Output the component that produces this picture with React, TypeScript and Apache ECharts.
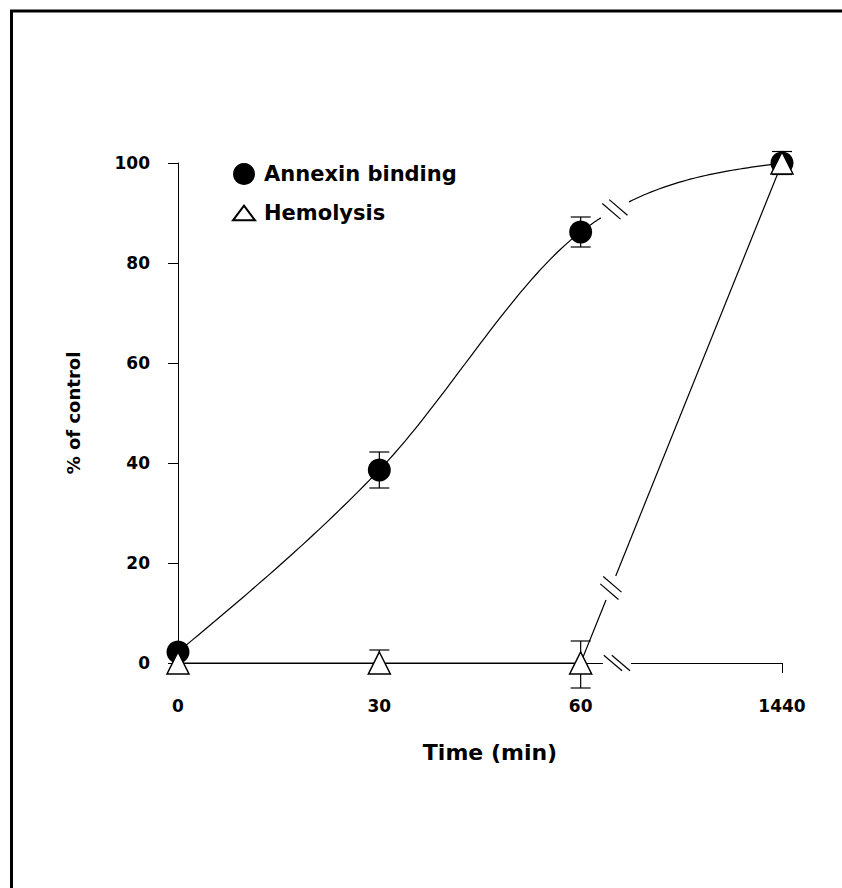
import React, { useEffect, useRef } from 'react';
import * as echarts from 'echarts';

// ---- data ----
const timeLabels = ['0', '30', '60', '1440'];
const annexinMean = [2.2, 38.6, 86.2, 100];
const annexinLow = [1.2, 35.0, 83.2, 97.7];
const annexinHigh = [3.2, 42.2, 89.2, 102.3];
const hemolysisMean = [0, 0, 0, 100];
const hemolysisLow = [-1.5, -1.8, -5.0, 100];
const hemolysisHigh = [1.5, 2.6, 4.4, 100];
const yMin = 0;
const yMax = 100;
const yInterval = 20;

const FONT = 'DejaVu Sans';
const BREAK_FRAC = 0.18; // where the "//" breaks sit between 60 and 1440

function breakMarks(cx: number, cy: number, dx: number, dy: number) {
  const mx = 0.76, my = 0.65, L = 12, off = 4;
  return [-1, 1].map((s) => ({
    type: 'line',
    shape: {
      x1: cx + s * off * dx - mx * L, y1: cy + s * off * dy - my * L,
      x2: cx + s * off * dx + mx * L, y2: cy + s * off * dy + my * L,
    },
    style: { stroke: '#000', lineWidth: 1.2 },
  }));
}

function renderCurves(params: any, api: any) {
  if (params.dataIndex !== 0) return null;
  const children: any[] = [];
  const lineStyle = { stroke: '#000', lineWidth: 1.2, fill: 'none' };

  // x-axis break (mask + marks)
  const a2 = api.coord([2, 0]);
  const a3 = api.coord([3, 0]);
  const ax = a2[0] + BREAK_FRAC * (a3[0] - a2[0]);
  const ay = a2[1];
  children.push({ type: 'line', shape: { x1: ax - 14, y1: ay, x2: ax + 14, y2: ay }, style: { stroke: '#fff', lineWidth: 5 } });
  children.push(...breakMarks(ax, ay, 1, 0));

  // Annexin smooth curve (spline through the points -> cubic bezier)
  const P = annexinMean.map((v, i) => api.coord([i, v]));
  const n = P.length;
  const T: number[][] = P.map((p: number[], i: number) => {
    const a = P[Math.max(0, i - 1)], b = P[Math.min(n - 1, i + 1)];
    return [(b[0] - a[0]) * 0.5, (b[1] - a[1]) * 0.5];
  });
  // natural-like end tangents
  T[0] = [1.5 * (P[1][0] - P[0][0]) - 0.5 * T[1][0], 1.5 * (P[1][1] - P[0][1]) - 0.5 * T[1][1]];
  T[n - 1] = [1.5 * (P[n - 1][0] - P[n - 2][0]) - 0.5 * T[n - 2][0], 1.5 * (P[n - 1][1] - P[n - 2][1]) - 0.5 * T[n - 2][1]];
  const bez = (i: number, t: number) => {
    const p0 = P[i], p3 = P[i + 1];
    const c1 = [p0[0] + T[i][0] / 3, p0[1] + T[i][1] / 3];
    const c2 = [p3[0] - T[i + 1][0] / 3, p3[1] - T[i + 1][1] / 3];
    const u = 1 - t;
    return [
      u * u * u * p0[0] + 3 * u * u * t * c1[0] + 3 * u * t * t * c2[0] + t * t * t * p3[0],
      u * u * u * p0[1] + 3 * u * u * t * c1[1] + 3 * u * t * t * c2[1] + t * t * t * p3[1],
    ];
  };
  const tc = 0.17, dt = 0.07;
  const first: number[][] = [];
  for (let i = 0; i < n - 2; i++) {
    for (let s = 0; s < 40; s++) first.push(bez(i, s / 40));
  }
  for (let s = 0; s <= 20; s++) first.push(bez(n - 2, (tc - dt) * s / 20));
  const second: number[][] = [];
  for (let s = 0; s <= 40; s++) second.push(bez(n - 2, tc + dt + (1 - tc - dt) * s / 40));
  children.push({ type: 'polyline', shape: { points: first }, style: lineStyle });
  children.push({ type: 'polyline', shape: { points: second }, style: lineStyle });
  const b0 = bez(n - 2, tc - 0.01), b1 = bez(n - 2, tc + 0.01), bc = bez(n - 2, tc);
  const bl = Math.hypot(b1[0] - b0[0], b1[1] - b0[1]);
  children.push(...breakMarks(bc[0], bc[1], (b1[0] - b0[0]) / bl, (b1[1] - b0[1]) / bl));

  // Hemolysis straight line with break
  const H = hemolysisMean.map((v, i) => api.coord([i, v]));
  const h2 = H[n - 2], h3 = H[n - 1];
  const hl = Math.hypot(h3[0] - h2[0], h3[1] - h2[1]);
  const hdx = (h3[0] - h2[0]) / hl, hdy = (h3[1] - h2[1]) / hl;
  const hf = 0.15;
  const hc = [h2[0] + hdx * hl * hf, h2[1] + hdy * hl * hf];
  const g = 13;
  const hFirst = H.slice(0, n - 1).concat([[hc[0] - hdx * g, hc[1] - hdy * g]]);
  const hSecond = [[hc[0] + hdx * g, hc[1] + hdy * g], h3];
  children.push({ type: 'polyline', shape: { points: hFirst }, style: lineStyle });
  children.push({ type: 'polyline', shape: { points: hSecond }, style: lineStyle });
  children.push(...breakMarks(hc[0], hc[1], hdx, hdy));

  return { type: 'group', children };
}

function renderErr(params: any, api: any) {
  const x = api.value(0);
  const a = api.coord([x, api.value(1)]);
  const b = api.coord([x, api.value(2)]);
  const w = 10;
  const st = { stroke: '#000', lineWidth: 1.2 };
  return {
    type: 'group',
    children: [
      { type: 'line', shape: { x1: a[0], y1: a[1], x2: b[0], y2: b[1] }, style: st },
      { type: 'line', shape: { x1: a[0] - w, y1: a[1], x2: a[0] + w, y2: a[1] }, style: st },
      { type: 'line', shape: { x1: b[0] - w, y1: b[1], x2: b[0] + w, y2: b[1] }, style: st },
    ],
  };
}

export default function App() {
  const ref = useRef<HTMLDivElement>(null);
  useEffect(() => {
    if (!ref.current) return;
    const chart = echarts.init(ref.current, undefined, { renderer: 'svg' });
    const labelStyle = { fontFamily: FONT, fontWeight: 'bold' as const, fontSize: 17, color: '#000' };
    chart.setOption({
      animation: false,
      backgroundColor: '#fff',
      grid: { left: 178, right: 60, top: 163, bottom: 225, containLabel: false },
      graphic: [
        {
          type: 'rect',
          shape: { x: 11.5, y: 11, width: 1000, height: 1000 },
          style: { fill: 'none', stroke: '#000', lineWidth: 3 },
        },
      ],
      legend: {
        orient: 'vertical',
        left: 232,
        top: 163,
        padding: 0,
        itemWidth: 22,
        itemHeight: 22,
        itemGap: 17,
        selectedMode: false,
        data: [
          { name: 'Annexin binding', icon: 'circle' },
          { name: 'Hemolysis', icon: 'path://M12,0L24,16L0,16Z' },
        ],
        textStyle: { fontFamily: FONT, fontWeight: 'bold', fontSize: 21, color: '#000', lineHeight: 22, padding: [0, 0, 0, 4] },
      },
      xAxis: {
        type: 'category',
        data: timeLabels,
        boundaryGap: false,
        name: 'Time (min)',
        nameLocation: 'middle',
        nameGap: 78,
        nameTextStyle: { fontFamily: FONT, fontWeight: 'bold', fontSize: 22, color: '#000', padding: [0, 0, 0, 20] },
        axisLine: { lineStyle: { color: '#000', width: 1 } },
        axisTick: { show: true, length: 10, inside: false, lineStyle: { color: '#000' } },
        axisLabel: { ...labelStyle, margin: 34 },
        splitLine: { show: false },
      },
      yAxis: {
        type: 'value',
        min: yMin,
        max: yMax,
        interval: yInterval,
        name: '% of control',
        nameLocation: 'middle',
        nameGap: 96,
        nameTextStyle: { fontFamily: FONT, fontWeight: 'bold', fontSize: 18, color: '#000' },
        axisLine: { show: true, lineStyle: { color: '#000', width: 1 } },
        axisTick: { show: true, length: 10, inside: false, lineStyle: { color: '#000' } },
        axisLabel: { ...labelStyle, margin: 28 },
        splitLine: { show: false },
      },
      series: [
        {
          type: 'custom',
          name: 'curves',
          renderItem: renderCurves,
          data: annexinMean.map((v, i) => [i, v]),
          clip: false,
          silent: true,
          z: 2,
        },
        {
          type: 'custom',
          name: 'annexinErr',
          renderItem: renderErr,
          data: annexinMean.map((_, i) => [i, annexinLow[i], annexinHigh[i]]),
          encode: { x: 0, y: [1, 2] },
          clip: false,
          silent: true,
          z: 3,
        },
        {
          type: 'custom',
          name: 'hemoErr',
          renderItem: renderErr,
          data: hemolysisMean.map((_, i) => [i, hemolysisLow[i], hemolysisHigh[i]]),
          encode: { x: 0, y: [1, 2] },
          clip: false,
          silent: true,
          z: 3,
        },
        {
          type: 'scatter',
          name: 'Annexin binding',
          data: annexinMean.map((v, i) => [i, v]),
          symbol: 'circle',
          symbolSize: 23,
          itemStyle: { color: '#000', opacity: 1 },
          clip: false,
          z: 4,
        },
        {
          type: 'scatter',
          name: 'Hemolysis',
          data: hemolysisMean.map((v, i) => [i, v]),
          symbol: 'triangle',
          symbolSize: 22,
          itemStyle: { color: '#fff', borderColor: '#000', borderWidth: 1.5, opacity: 1 },
          clip: false,
          z: 5,
        },
      ],
    });
    return () => chart.dispose();
  }, []);
  return <div ref={ref} style={{ position: 'fixed', left: 0, top: 0, width: 842, height: 888 }} />;
}
